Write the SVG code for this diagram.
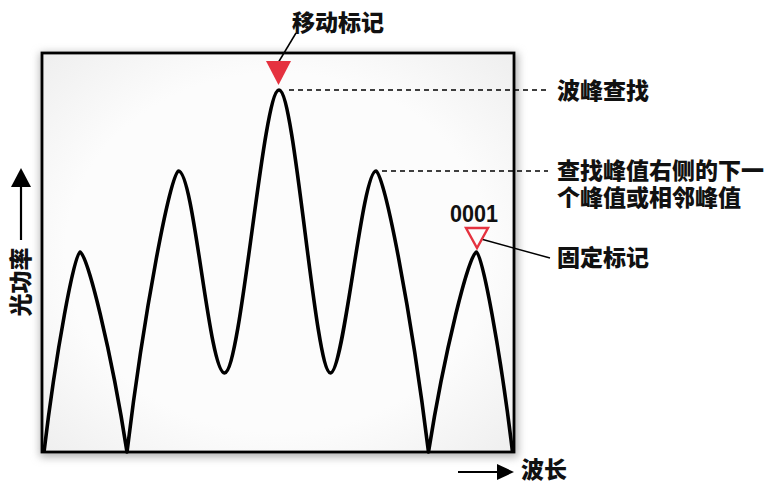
<svg xmlns="http://www.w3.org/2000/svg" width="773" height="484" viewBox="0 0 773 484">
  <defs>
    <filter id="shadow" x="-10%" y="-10%" width="120%" height="120%">
      <feGaussianBlur stdDeviation="4"/>
    </filter>
    <filter id="soft" x="-30%" y="-30%" width="160%" height="160%">
      <feGaussianBlur stdDeviation="0.6"/>
    </filter>
    <radialGradient id="inner" cx="50%" cy="50%" r="75%">
      <stop offset="0.6" stop-color="#fcfcfc"/>
      <stop offset="1" stop-color="#ececec"/>
    </radialGradient>
    <style>
      .lbl { font-family: "Noto Sans CJK SC", "Noto Sans", sans-serif; font-weight: 900; font-size: 23px; fill: #111; }
      .num { font-family: "Liberation Sans", Arial, sans-serif; font-weight: 700; font-size: 23.5px; fill: #111; }
      .dash { stroke: #000; stroke-width: 1.3; stroke-dasharray: 5 4; fill: none; }
      .lead { stroke: #000; stroke-width: 1.5; fill: none; }
      .axis { stroke: #000; stroke-width: 2.2; fill: none; }
    </style>
  </defs>

  <rect width="773" height="484" fill="#ffffff"/>

  <g id="frame">
    <rect x="40" y="53" width="478" height="404" fill="#b0b0b0" filter="url(#shadow)"/>
    <rect x="42" y="53" width="472" height="399" fill="url(#inner)" stroke="#000" stroke-width="2.8"/>
  </g>

  <g id="spectrum">
    <path d="M44,452 C55.9,352 74.6,252 80,252 C87,252 111.5,352 127,452 C144,312 170.8,171 178.5,171 C194,171 209,373 224.5,373 C241,373 263,90 279,90 C295,90 315,373 330.5,373 C344,373 362,171 376,171 C383.9,171 411.2,311.5 428.5,452 C444.3,352 469.3,252 476.5,252 C481.9,252 500.6,352 512.5,452" fill="none" stroke="#000" stroke-width="3.6" stroke-linejoin="round"/>
  </g>

  <g id="connectors">
    <line class="dash" x1="289" y1="90" x2="548" y2="90"/>
    <line class="dash" x1="382" y1="171" x2="548" y2="171"/>
    <line class="lead" x1="278" y1="63" x2="296" y2="33"/>
    <line class="lead" x1="481" y1="239" x2="550" y2="258"/>
    <line class="axis" x1="21" y1="240" x2="21" y2="186"/>
    <line class="axis" x1="458" y1="472" x2="498" y2="472"/>
  </g>

  <g id="axis-arrows">
    <path d="M11,187 L31,187 L21,168 Z" fill="#000"/>
    <path d="M497,464 L497,480 L514,472 Z" fill="#000"/>
  </g>

  <g id="moving-marker">
    <path d="M266,61 L291,61 L278.5,85 Z" fill="#e5323f" filter="url(#soft)"/>
    <text class="lbl" x="292" y="31">移动标记</text>
  </g>

  <g id="peak-search">
    <text class="lbl" x="557" y="99">波峰查找</text>
  </g>

  <g id="next-peak">
    <text class="lbl" x="557" y="179">查找峰值右侧的下一</text>
    <text class="lbl" x="557" y="206">个峰值或相邻峰值</text>
  </g>

  <g id="fixed-marker">
    <text class="num" x="450" y="222" textLength="48" lengthAdjust="spacingAndGlyphs">0001</text>
    <path d="M466,228 L488,228 L477,248 Z" fill="none" stroke="#e5323f" stroke-width="2.4" stroke-linejoin="miter"/>
    <text class="lbl" x="557" y="266">固定标记</text>
  </g>

  <g id="y-axis-label">
    <text class="lbl" x="0" y="0" text-anchor="middle" transform="translate(29,282) rotate(-90)">光功率</text>
  </g>

  <g id="x-axis-label">
    <text class="lbl" x="521" y="477.5">波长</text>
  </g>
</svg>
